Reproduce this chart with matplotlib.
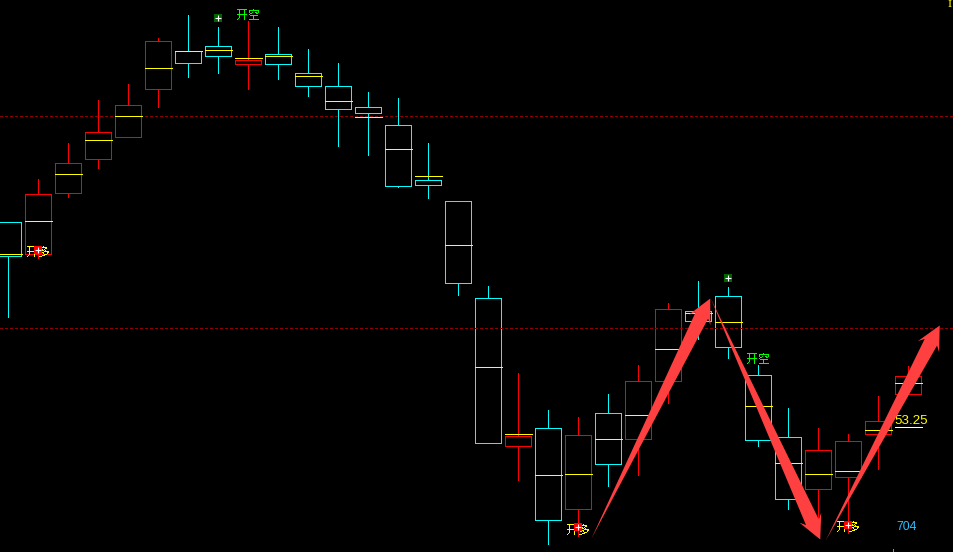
import numpy as np
from matplotlib import pyplot as plt
from matplotlib.patches import Polygon

# candle values (inverted chart scale, small = high)
body_top = [222.5, 194.5, 163.5, 132.5, 105.5, 41.5, 51.5, 46.5, 60.5, 54.5, 73.5, 86.5, 107.5, 125.5, 180.5, 201.5,
            298.5, 436.5, 428.5, 435.5, 413.5, 381.5, 309.5, 311.5, 296.5, 375.5, 437.5, 450.5, 441.5, 421.5, 376.5]
body_bottom = [256.5, 254.5, 193.5, 159.5, 137.5, 89.5, 63.5, 56.5, 64.5, 64.5, 86.5, 109.5, 113.5, 186.5, 185.5, 283.5,
               443.5, 446.5, 520.5, 509.5, 464.5, 439.5, 381.5, 321.5, 347.5, 440.5, 499.5, 489.5, 477.5, 434.5, 394.5]
wick_top = [222.5, 179.5, 143.5, 100.5, 84.5, 38.5, 15.5, 27.5, 21.5, 27.5, 49.5, 63.5, 92.5, 98.5, 143.5, 201.5,
            286.5, 373.5, 410.5, 417.5, 394.5, 365.5, 303.5, 281.5, 287.5, 365.5, 408.5, 428.5, 434.5, 396.5, 366.5]
wick_bottom = [317.5, 258.5, 197.5, 168.5, 137.5, 107.5, 77.5, 73.5, 89.5, 79.5, 96.5, 146.5, 155.5, 187.5, 198.5, 295.5,
               443.5, 480.5, 544.5, 536.5, 486.5, 475.5, 403.5, 339.5, 358.5, 446.5, 509.5, 526.5, 533.5, 469.5, 394.5]
mid_line = [254.5, 221.5, 174.5, 140.5, 116.5, 68.5, 51.5, 50.5, 58.5, 56.5, 76.5, 101.5, 117.5, 149.5, 176.5, 245.5,
            367.5, 434.5, 475.5, 474.5, 439.5, 415.5, 349.5, 313.5, 322.5, 406.5, 463.5, 474.5, 471.5, 430.5, 383.5]
candle_color = ["c", "r", "r", "r", "r", "r", "c", "c", "r", "c", "c", "c", "c", "c", "c", "c",
                "c", "r", "c", "r", "c", "r", "r", "c", "c", "c", "c", "r", "r", "r", "r"]

# horizontal guides
guide_levels = [116.5, 328.5]

# signals: candle number, level
long_signals = [(1, 250.5), (19, 527.5), (28, 525.5)]
short_signals = [(7, 18.5), (24, 278.5)]
long_labels = [(1, 252.5), (19, 530.5), (28, 527.5)]
short_labels = [(8, 15.5), (25, 359.5)]

# hand drawn arrows: tail, tip
arrows = [((591.5, 540), (710.5, 299.5)),
          ((711, 299.5), (820.5, 540.5)),
          ((826, 541.5), (940, 326.5))]

plt.rcParams['font.family'] = ['Noto Sans CJK SC', 'DejaVu Sans']
fig = plt.figure(figsize=(9.535, 5.525), dpi=100, facecolor="black")
ax = fig.add_axes([0, 0, 1, 1])
ax.set_xlim(0.25, 953.75)
ax.set_ylim(553, 0.5)
ax.axis("off")

COLORS = {"c": "#00ffff", "r": "#ff0000"}
candle_x = 8.5 + 30 * np.arange(len(body_top))
LW = 0.72

# candles
for x, t, b, wt, wb, m, c in zip(candle_x, body_top, body_bottom, wick_top, wick_bottom, mid_line, candle_color):
    col = COLORS[c]
    ax.plot([x, x], [wt, wb], color=col, lw=LW, antialiased=False, zorder=2, solid_capstyle="butt")
    ax.bar(x, b - t, bottom=t, width=26, facecolor="black", edgecolor=col, linewidth=LW, antialiased=False, zorder=3)
    ax.plot([x - 13, x + 14], [m, m], color="#ffff00", lw=LW, antialiased=False, zorder=5, solid_capstyle="butt")

# guides
for level in guide_levels:
    ax.plot([0, 954], [level, level], color="#900000", lw=LW, dashes=(2.6, 2.7), dash_capstyle="butt",
            antialiased=False, zorder=4)

# signal labels
for i, y in long_labels:
    ax.text(candle_x[i], y, "开多", color="#ffff00", fontsize=8.6, ha="center", va="center", zorder=6, antialiased=False)
for i, y in short_labels:
    ax.text(candle_x[i], y, "开空", color="#00ff00", fontsize=8.6, ha="center", va="center", zorder=6, antialiased=False)

# signal icons
for i, y in long_signals:
    ax.plot(candle_x[i], y, "s", ms=5.5, color="#ff0000", mew=0, zorder=7)
    ax.plot(candle_x[i], y, "+", ms=4, color="white", mew=0.8, zorder=8)
for i, y in short_signals:
    ax.plot(candle_x[i], y, "s", ms=5.5, color="#006400", mew=0, zorder=7)
    ax.plot(candle_x[i], y, "+", ms=4, color="white", mew=0.8, zorder=8)

# price tag
ax.text(895, 421.5, "53.25", color="#ffff00", fontsize=9.6, family="Liberation Sans", va="center", ha="left", zorder=6)
ax.plot([895, 922], [427.5, 427.5], color="white", lw=LW, zorder=6)
ax.text(897, 527, "704", color="#30c0ff", fontsize=8.8, family="Liberation Sans", va="center", ha="left", zorder=6)
ax.text(948, 5, "I", color="#ffff00", fontsize=7.5, family="DejaVu Serif", va="center", ha="left", zorder=6)
ax.plot([893.5, 893.5], [550, 553], color="#909090", lw=LW, zorder=2)


def arrow_poly(tail, tip):
    tail = np.array(tail)
    tip = np.array(tip)
    d = (tip - tail) / np.linalg.norm(tip - tail)
    n = np.array([-d[1], d[0]])
    neck = tip - d * 19
    barb = tip - d * 24
    return [tail, neck + n * 7, barb + n * 12, tip, barb - n * 12, neck - n * 7]


for tail, tip in arrows:
    ax.add_patch(Polygon(arrow_poly(tail, tip), closed=True, facecolor="#ff4040", edgecolor="none", zorder=9))

fig.savefig("out.png", dpi=100, facecolor="black")
